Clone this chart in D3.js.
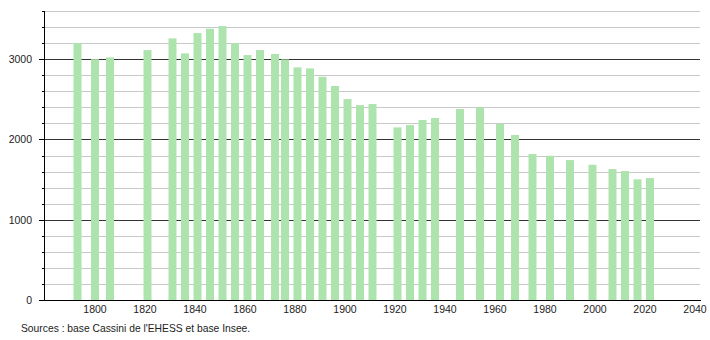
<!DOCTYPE html>
<html>
<head>
<meta charset="utf-8">
<script src="https://cdn.jsdelivr.net/npm/d3@7/dist/d3.min.js"></script>
<style>
  body { margin: 0; background: #fff; }
  svg text { font-family: "Liberation Sans", Arial, sans-serif; fill: #222; }
</style>
</head>
<body>
<div id="chart"></div>
<script>
// années de recensement
const years = [1793, 1800, 1806, 1821, 1831, 1836, 1841, 1846, 1851, 1856,
               1861, 1866, 1872, 1876, 1881, 1886, 1891, 1896, 1901, 1906,
               1911, 1921, 1926, 1931, 1936, 1946, 1954, 1962, 1968, 1975,
               1982, 1990, 1999, 2007, 2012, 2017, 2022];
// population
const population = [3200, 3000, 3022, 3113, 3259, 3072, 3325, 3379, 3412, 3197,
                     3051, 3113, 3064, 2997, 2898, 2885, 2781, 2665, 2503, 2428,
                     2441, 2150, 2179, 2242, 2267, 2379, 2400, 2192, 2055, 1818,
                     1797, 1743, 1685, 1631, 1606, 1503, 1519];
const xTicks = [1800, 1820, 1840, 1860, 1880, 1900, 1920, 1940, 1960, 1980, 2000, 2020, 2040];
const yLabels = [0, 1000, 2000, 3000];
const source = "Sources : base Cassini de l'EHESS et base Insee.";

const width = 710, height = 340;

const svg = d3.select("#chart").append("svg")
    .attr("width", width)
    .attr("height", height);

const x = d3.scaleLinear().domain([1780, 2042]).range([45, 700]);
const y = d3.scaleLinear().domain([0, 3600]).range([300, 11]);

// grille : traits fins tous les 200, traits foncés tous les 1000
const grid = d3.range(200, 3601, 200);
svg.append("g").selectAll("line")
    .data(grid)
    .enter()
    .append("line")
    .attr("x1", x(1780)).attr("x2", x(2042))
    .attr("y1", d => Math.round(y(d)) + 0.5)
    .attr("y2", d => Math.round(y(d)) + 0.5)
    .style("stroke", d => d % 1000 === 0 ? "#333" : "#c8c8c8")
    .style("stroke-width", "1px");

// barres
svg.append("g").selectAll("rect")
    .data(years)
    .enter()
    .append("rect")
    .attr("x", d => x(d) - 4)
    .attr("width", 8)
    .attr("y", (d, i) => y(population[i]))
    .attr("height", (d, i) => y(0) - y(population[i]))
    .style("fill", "#ade3ad");

// axe vertical
const yAxis = svg.append("g");
yAxis.append("line")
    .attr("x1", 44.5).attr("x2", 44.5)
    .attr("y1", y(3600)).attr("y2", y(0))
    .style("stroke", "#000");
yAxis.selectAll("line.tick")
    .data(grid)
    .enter()
    .append("line")
    .attr("class", "tick")
    .attr("x1", d => d % 1000 === 0 ? 39 : 42).attr("x2", 44.5)
    .attr("y1", d => Math.round(y(d)) + 0.5)
    .attr("y2", d => Math.round(y(d)) + 0.5)
    .style("stroke", "#000");
yAxis.selectAll("text")
    .data(yLabels)
    .enter()
    .append("text")
    .attr("x", 32)
    .attr("y", d => y(d) + 4)
    .attr("text-anchor", "end")
    .style("font-size", "10.5px")
    .text(d => d);

// axe horizontal
svg.append("line")
    .attr("x1", 39).attr("x2", 701)
    .attr("y1", 300.5).attr("y2", 300.5)
    .style("stroke", "#000");
svg.append("g").selectAll("text")
    .data(xTicks)
    .enter()
    .append("text")
    .attr("x", d => x(d))
    .attr("y", 313)
    .attr("text-anchor", "middle")
    .style("font-size", "10.5px")
    .text(d => d);

svg.append("text")
    .attr("x", 21)
    .attr("y", 332)
    .style("font-size", "10.3px")
    .text(source);
</script>
</body>
</html>
